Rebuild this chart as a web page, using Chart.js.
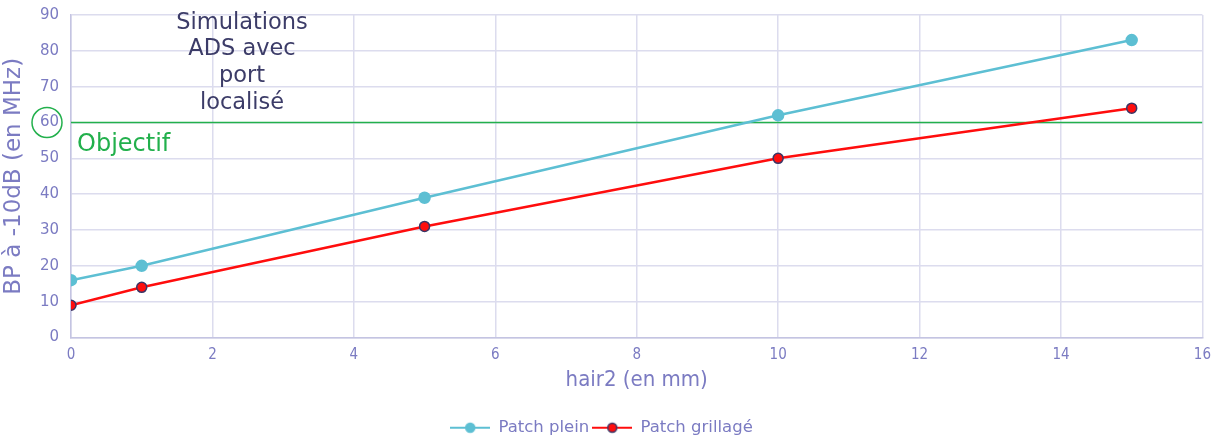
<!DOCTYPE html>
<html>
<head>
<meta charset="utf-8">
<script src="https://cdn.jsdelivr.net/npm/chart.js@4/dist/chart.umd.min.js"></script>
<style>
  body { margin: 0; background: #fff; }
  #wrap { width: 1220px; height: 436px; }
</style>
</head>
<body>
<div id="wrap"><canvas id="bpChart" width="1220" height="436"></canvas></div>
<script>
// data
var hair2 = [0, 1, 5, 10, 15];
var patchPlein = [16, 20, 39, 62, 83];
var patchGrille = [9, 14, 31, 50, 64];
var objectifX = [0, 16];
var objectifY = [60, 60];
var noteLines = ['Simulations', 'ADS avec', 'port', 'localisé'];

var FONT = '"DejaVu Sans", Lato, sans-serif';
var NARROW = '"DejaVu Sans Condensed", "Liberation Sans Narrow", Lato, sans-serif';
var lavender = '#7b7bc2';
var gridCol = '#dcdcee';

function toPoints(xs, ys) {
    return xs.map(function (x, i) { return { x: x, y: ys[i] }; });
}

// small canvas with a line and a dot, used as the legend symbol
function legendMark(lineCol, fill, border) {
    var c = document.createElement('canvas');
    c.width = 40; c.height = 14;
    var g = c.getContext('2d');
    g.strokeStyle = lineCol; g.lineWidth = 2;
    g.beginPath(); g.moveTo(0, 7); g.lineTo(40, 7); g.stroke();
    g.beginPath(); g.arc(20, 7, 4.5, 0, Math.PI * 2);
    g.fillStyle = fill; g.fill();
    g.strokeStyle = border; g.lineWidth = 1.5; g.stroke();
    return c;
}

var notes = {
    id: 'notes',
    afterDraw: function (chart) {
        var ctx = chart.ctx;
        var y = chart.scales.y;
        var yy = y.getPixelForValue(60);
        ctx.save();
        // text block at the top
        ctx.fillStyle = '#3c3c68';
        ctx.font = '22.5px ' + FONT;
        ctx.textAlign = 'center';
        ctx.textBaseline = 'middle';
        noteLines.forEach(function (t, i) {
            ctx.fillText(t, 242, 23 + i * 26.6);
        });
        // objectif label
        ctx.fillStyle = '#22b04c';
        ctx.font = '24px ' + FONT;
        ctx.textAlign = 'left';
        ctx.fillText('Objectif', 77, yy + 22);
        // ring round the 60 tick
        ctx.strokeStyle = '#22b04c';
        ctx.lineWidth = 1.5;
        ctx.beginPath();
        ctx.arc(47, yy, 15, 0, Math.PI * 2);
        ctx.stroke();
        ctx.restore();
    }
};

var ctx = document.getElementById('bpChart').getContext('2d');
var chart = new Chart(ctx, {
    type: 'scatter',
    data: {
        datasets: [{
            label: 'Patch plein',
            data: toPoints(hair2, patchPlein),
            showLine: true,
            borderColor: '#5dbfd3',
            backgroundColor: '#5dbfd3',
            pointBorderColor: '#5dbfd3',
            borderWidth: 2.5,
            pointRadius: 5,
            pointHoverRadius: 5
        }, {
            label: 'Patch grillagé',
            data: toPoints(hair2, patchGrille),
            showLine: true,
            borderColor: '#ff0d0d',
            backgroundColor: '#ff0d0d',
            pointBorderColor: '#3b3565',
            pointBorderWidth: 1.5,
            borderWidth: 2.5,
            pointRadius: 5,
            pointHoverRadius: 5
        }, {
            label: 'Objectif',
            data: toPoints(objectifX, objectifY),
            showLine: true,
            borderColor: '#22b04c',
            borderWidth: 1.5,
            pointRadius: 0
        }]
    },
    options: {
        responsive: false,
        animation: false,
        layout: { padding: { left: 0, right: 17, top: 15, bottom: -10 } },
        plugins: {
            tooltip: { enabled: false },
            legend: {
                position: 'bottom',
                labels: {
                    usePointStyle: true,
                    pointStyleWidth: 40,
                    boxHeight: 14,
                    color: lavender,
                    font: { family: FONT, size: 16.5 },
                    padding: 3,
                    filter: function (item) { return item.text !== 'Objectif'; },
                    generateLabels: function (chart) {
                        var base = Chart.defaults.plugins.legend.labels.generateLabels(chart);
                        base.forEach(function (it) {
                            if (it.datasetIndex === 0) it.pointStyle = legendMark('#5dbfd3', '#5dbfd3', '#5dbfd3');
                            if (it.datasetIndex === 1) it.pointStyle = legendMark('#ff0d0d', '#ff0d0d', '#3b3565');
                        });
                        return base;
                    }
                }
            }
        },
        scales: {
            x: {
                type: 'linear',
                min: 0, max: 16,
                ticks: { stepSize: 2, color: lavender, font: { family: NARROW, size: 15 }, padding: 9 },
                grid: { color: gridCol, lineWidth: 1.5, drawTicks: false },
                border: { color: '#c4c4e2', width: 1.5 },
                title: { display: true, text: 'hair2 (en mm)', color: lavender, font: { family: NARROW, size: 22 }, padding: { top: 4, bottom: 23 } },
                afterFit: function (s) { s.height = 79; }
            },
            y: {
                min: 0, max: 90,
                ticks: { stepSize: 10, color: lavender, font: { family: FONT, size: 15 }, padding: 12 },
                grid: { color: gridCol, lineWidth: 1.5, drawTicks: false },
                border: { color: '#c4c4e2', width: 1.5 },
                title: { display: true, text: 'BP à -10dB (en MHz)', color: lavender, font: { family: FONT, size: 23 }, padding: 0 },
                afterFit: function (s) { s.width = 71; s.paddingTop = 0; s.paddingBottom = 0; }
            }
        }
    },
    plugins: [notes]
});
</script>
</body>
</html>
